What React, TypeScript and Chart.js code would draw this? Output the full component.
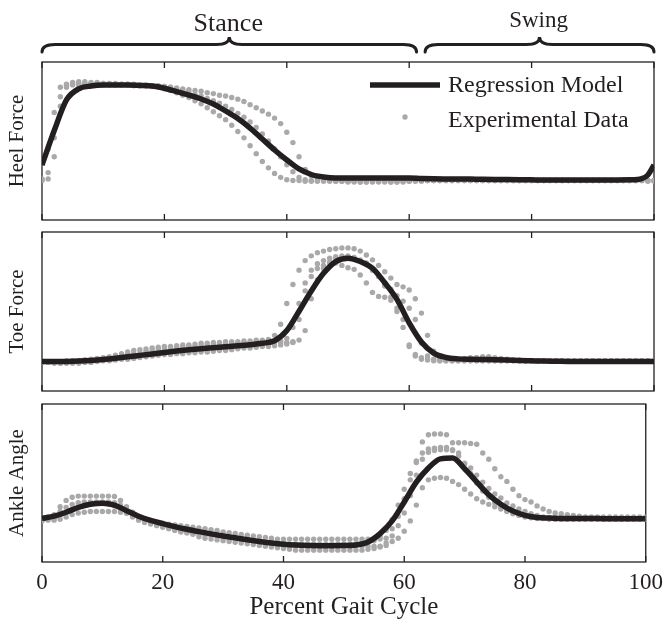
import React, { useEffect, useRef } from 'react';
import { Chart, registerables } from 'chart.js';

Chart.register(...registerables);

// ---------- data ----------
const PCT = [
  0, 1, 2, 3, 4, 5, 6, 7, 8, 9, 10, 11, 12, 13, 14, 15, 16, 17, 18, 19,
  20, 21, 22, 23, 24, 25, 26, 27, 28, 29, 30, 31, 32, 33, 34, 35, 36, 37, 38, 39,
  40, 41, 42, 43, 44, 45, 46, 47, 48, 49, 50, 51, 52, 53, 54, 55, 56, 57, 58, 59,
  60, 61, 62, 63, 64, 65, 66, 67, 68, 69, 70, 71, 72, 73, 74, 75, 76, 77, 78, 79,
  80, 81, 82, 83, 84, 85, 86, 87, 88, 89, 90, 91, 92, 93, 94, 95, 96, 97, 98, 99, 100,
];
const REG_X = [
  0, 2, 4, 6, 8, 10, 12, 14, 16, 18, 20, 22, 24, 26, 28, 30, 32, 34, 36, 38,
  40, 42, 44, 46, 48, 50, 52, 54, 56, 58, 60, 62, 64, 66, 68, 70, 72, 74, 76, 78,
  80, 82, 84, 86, 88, 90, 92, 94, 96, 98, 99, 100,
];
const X_TICKS = [0, 20, 40, 60, 80, 100];

const HEEL_REG = [
  34.8, 56.6, 76, 83, 84.8, 85.4, 85.4, 85.4, 85.2, 84.8,
  83.4, 81.3, 79.1, 76.6, 73.4, 69, 64.2, 58.2, 51.3, 44.3,
  38, 32.3, 28.8, 27.2, 26.6, 26.6, 26.6, 26.6, 26.6, 26.6,
  26.6, 26.3, 26.1, 26, 26, 25.9, 25.8, 25.7, 25.6, 25.5,
  25.4, 25.3, 25.3, 25.3, 25.3, 25.3, 25.3, 25.3, 25.4, 26.2,
  28.5, 34.8,
];
const HEEL_T1 = [
  25.5, 26, 40, 72, 84, 86, 86.5, 86.5, 86.5, 86.5,
  86.5, 86.5, 86, 86, 86, 85.5, 85.5, 85, 84.5, 84,
  83, 82, 80.5, 79, 77.5, 75.5, 73.5, 71, 68.5, 66,
  63.5, 60, 56, 52, 47, 42, 37, 33, 29.5, 27,
  25.5, 25, 25, 24.5, 24.5, 24.5, 24.5, 24.5, 24.5, 24.5,
  24.5, 24.5, 24, 24, 24.5, 24.5, 24.5, 24, 24, 24.5,
  24.5, 25, 25, 25, 25, 25, 25, 25, 25, 25,
  25, 25, 25, 25, 25, 25, 25, 25, 25, 25,
  25, 25, 25, 25, 25, 25, 25, 25, 25, 25,
  25, 25, 25, 25, 25, 25, 25, 25, 25, 25,
  25,
];
const HEEL_T2 = [
  25, 30, 52, 78, 86, 87, 87.5, 87.5, 87, 87,
  86.5, 86.5, 86.5, 86, 86, 86, 85.5, 85.5, 85, 85,
  84.5, 84, 83, 82, 81, 79.5, 78.5, 77, 75.5, 74,
  72, 70, 67.5, 65, 62, 58.5, 54.5, 50, 45, 40,
  35, 30.5, 27, 25.5, 25, 25, 25, 25, 24.5, 24.5,
  24.5, 24.5, 24.5, 24.5, 24.5, 24.5, 24.5, 24.5, 24.5, 24.5,
  25, 25, 25, 25, 25, 25, 25, 25, 25, 25,
  25, 25, 25, 25, 25, 25, 25, 25, 25, 25,
  25, 25, 25, 25, 25, 25, 25, 25, 25, 25,
  25, 25, 25, 25, 25, 25, 25, 25, 25, 24.5,
  24.5,
];
const HEEL_T3 = [
  26, 45, 68, 84, 85.5, 85.5, 85.5, 85.5, 85.5, 85.5,
  85.5, 85.5, 85.5, 85.5, 85.5, 85, 85, 85, 85, 84.5,
  84.5, 84, 83.5, 83, 82.5, 82, 81.5, 80.5, 80, 79,
  78.5, 77.5, 76.5, 75, 73, 71, 69, 67, 64.5, 61,
  55.5, 49, 40, 32, 28, 26.5, 25.5, 25, 25, 25,
  24, 24, 24, 24, 24, 24, 24, 24, 24, 24,
  24.5, 24.5, 24.5, 25, 25, 25, 25, 25, 25, 25,
  25, 25, 25, 25, 25, 25, 25, 25, 25, 25,
  25, 25, 25, 25, 25, 25, 25, 25, 25, 25,
  25, 25, 25, 25, 25, 25, 25, 25, 25, 25,
  25,
];

const TOE_REG = [
  18.5, 18.5, 18.6, 18.8, 19.2, 19.8, 20.6, 21.5, 22.4, 23.3,
  24.2, 25.1, 25.9, 26.6, 27.2, 27.8, 28.4, 29.1, 30, 31.6,
  38, 50.2, 62.9, 74, 81.4, 83.5, 81.4, 77.2, 68.1, 57.6,
  42.8, 30.8, 23.8, 21.1, 20.2, 19.9, 19.8, 19.7, 19.5, 19.2,
  19, 18.8, 18.7, 18.6, 18.6, 18.6, 18.6, 18.6, 18.6, 18.6,
  18.6, 18.6,
];
const TOE_T1 = [
  18, 18, 18.5, 18.5, 18.5, 19, 19, 19.5, 20, 20.5,
  21, 21.5, 22.5, 23.5, 24.5, 25.5, 26, 26.5, 27, 27.5,
  28, 28, 28.5, 29, 29, 29.5, 30, 30, 30.5, 30.5,
  31, 31, 31, 31.5, 31.5, 32, 32, 32.5, 35, 42,
  55, 67, 76, 82, 85, 87, 88, 89, 89.5, 90,
  90, 89.5, 88, 85.5, 82.5, 79, 75, 71, 67, 65.5,
  63.5, 58, 49, 35, 25, 21, 20, 20, 20, 20.5,
  21, 21, 21.5, 21.5, 21, 20.5, 20, 19.5, 19.5, 19,
  19, 19, 19, 19, 19, 19, 19, 19, 19, 19,
  19, 19, 19, 19, 19, 19, 19, 19, 19, 19,
  19,
];
const TOE_T2 = [
  18.5, 18.5, 18.5, 18.5, 19, 19, 19, 19.5, 19.5, 20,
  20.5, 21, 21.5, 22, 23, 23.5, 24, 25, 25.5, 26,
  26.5, 27, 27.5, 27.5, 28, 28, 28.5, 29, 29, 29.5,
  29.5, 30, 30, 30.5, 30.5, 31, 31, 31, 31, 31.5,
  33, 40, 55, 68, 76, 80, 82, 83.5, 84.5, 85,
  85, 84, 82, 79.5, 76, 72, 68, 64, 60, 56.5,
  52, 45, 30, 22, 20, 19.5, 19.5, 19.5, 19.5, 20,
  20.5, 21, 21, 21, 20.5, 20, 19.5, 19.5, 19, 19,
  19, 19, 19, 19, 19, 19, 19, 19, 19, 19,
  19, 19, 19, 19, 19, 19, 19, 19, 19, 19,
  19,
];
const TOE_T3 = [
  18.5, 18, 18, 17.5, 17.5, 17.5, 17.5, 18, 18, 18.5,
  19, 19, 19.5, 20, 20, 20.5, 21, 21.5, 22, 22.5,
  23, 23, 23.5, 23.5, 24, 24, 24.5, 24.5, 25, 25.5,
  25.5, 26, 26.5, 27, 27, 27.5, 28, 28, 28.5, 29,
  29.5, 30.5, 45, 63, 72, 77, 79, 80.5, 80.5, 79,
  77.5, 76.5, 73, 68, 62, 59.5, 59, 57, 52, 45,
  28, 22, 20, 19.5, 19, 19, 19, 19, 19, 19,
  19, 19, 19, 19, 19, 19, 19, 19, 19, 19,
  19, 19, 19, 19, 19, 19, 19, 19, 19, 19,
  19, 19, 19, 19, 19, 19, 19, 19, 19, 19,
  19,
];
const TOE_T4 = [
  18, 18, 17.5, 17.5, 18, 18, 18.5, 18.5, 19, 19,
  19.5, 20, 20.5, 21, 21.5, 22, 22.5, 23, 23.5, 24,
  24.5, 25, 25.5, 26, 26.5, 27, 27, 27.5, 28, 28,
  28.5, 29, 29, 29.5, 29.5, 30, 30, 30, 30.5, 30.5,
  30.5, 31, 32, 38, 58, 70, 77, 81, 83, 84,
  84, 83.5, 82.5, 80.5, 77, 72, 66, 59, 50, 40,
  29, 23, 21, 20, 19.5, 19, 19, 19, 19, 19,
  19, 19, 19, 19, 19, 19, 19, 19, 19, 19,
  19, 19, 19, 19, 19, 19, 19, 19, 19, 19,
  19, 19, 19, 19, 19, 19, 19, 19, 19, 19,
  19,
];

const ANKLE_REG = [
  27.6, 29, 31.5, 34.5, 36.5, 37.2, 36, 32.5, 29, 26.3,
  24.3, 22.4, 20.7, 19.2, 17.8, 16.5, 15.3, 14.1, 13, 12,
  11.2, 10.7, 10.4, 10.3, 10.3, 10.4, 10.8, 12.7, 18, 26,
  38, 50.5, 59.5, 65.3, 65.8, 59, 50.7, 42.5, 36.5, 32.2,
  29.5, 28.2, 27.8, 27.6, 27.5, 27.5, 27.5, 27.4, 27.4, 27.4,
  27.4, 27.4,
];
const ANKLE_T1 = [
  27, 27.5, 30, 35, 39, 41, 41.7, 41.7, 41.7, 41.7,
  41.7, 41.7, 41.5, 39, 35, 31.5, 28.5, 26.5, 25.5, 25,
  24.5, 24, 23.5, 23, 22.5, 22, 21.5, 21, 20.5, 20,
  19, 18.5, 18, 17.5, 17, 16.5, 16, 15.5, 15, 14.5,
  14.5, 14.5, 14.5, 14.5, 14.5, 14.5, 14.5, 14.5, 14.5, 14.5,
  14.5, 14.5, 14.5, 14.5, 14.5, 14.5, 14.5, 15, 21, 29,
  40, 52, 63, 76, 80.5, 81, 81, 80.5, 75.5, 75.5,
  75.5, 75, 74.5, 69, 65, 59, 54, 51, 46, 42,
  39.5, 38, 35.5, 33.5, 32, 31, 30.5, 30, 29.5, 29,
  28.5, 28.5, 28.5, 28.5, 28.5, 28.5, 28.5, 28.5, 28.5, 28.5,
  28.5,
];
const ANKLE_T2 = [
  26, 26.5, 26.5, 27, 28.5, 30, 31, 31.5, 32, 32,
  32, 32, 32, 31.5, 30.8, 29, 27.5, 26, 24.5, 23.5,
  22.5, 21.5, 20.5, 19.5, 18.5, 17.5, 16, 15, 14.5, 14,
  13.5, 13, 12.5, 12, 11.5, 11, 10.5, 10, 9.5, 9,
  8.5, 8, 7.5, 7.5, 7.5, 7.5, 7.5, 7.5, 7.5, 7.5,
  7.5, 7.5, 7.5, 7.5, 8, 8.5, 9.5, 12, 16.5, 23,
  31, 42, 55, 65, 69.5, 70.5, 71, 71, 70.5, 69,
  62.5, 59.5, 55, 50.5, 46.5, 43, 40.5, 37.3, 35.5, 33.5,
  32, 30.5, 29.5, 28.5, 27.5, 27, 27, 27, 27, 27,
  27, 27, 27, 27, 27, 27, 27, 27, 27, 27,
  27,
];
const ANKLE_T3 = [
  27, 27.5, 28, 29.5, 31.5, 33.5, 35, 36, 36.5, 37,
  37, 36.5, 35.5, 33.5, 31, 28.5, 26.5, 25, 24, 23,
  22, 21, 20, 19, 18.5, 18, 17.5, 17, 16.5, 16,
  15.5, 15, 14.5, 14, 13.5, 13, 12.5, 12, 11.5, 11,
  10.5, 10, 10, 10, 10, 10, 10, 10, 10, 10,
  10, 10, 10, 10, 10, 10, 10, 10.5, 13, 15,
  19.5, 26, 36, 47, 52, 53, 53.5, 53, 51, 49,
  46, 43, 40, 38, 36.5, 35, 33.5, 32, 30.5, 29.5,
  28.5, 28, 27.5, 27.5, 27, 27, 27, 27, 27, 27,
  27, 27, 27, 27, 27, 27, 27, 27, 27, 27,
  27,
];
const ANKLE_T4 = [
  28, 28.5, 29.5, 32, 34.5, 36.5, 37.5, 38, 38, 38,
  38, 38, 37.5, 36, 33.5, 30.5, 28, 26.5, 25.5, 24.5,
  23.5, 22.5, 21.5, 20.5, 19.5, 19, 18.5, 18, 17.5, 17,
  16.5, 16, 15.5, 15, 14.5, 14, 13.5, 13, 12.5, 12,
  12, 11.5, 11.5, 11.5, 11.5, 11.5, 11.5, 11.5, 11.5, 11.5,
  11.5, 11.5, 11.5, 12, 12.5, 13.5, 16, 20, 27, 36,
  46, 56, 64, 69, 71.5, 72, 72.5, 72.5, 71, 67,
  62, 56, 50, 45, 41, 37.5, 34.5, 32.5, 31, 30,
  29.5, 29, 28.5, 28, 28, 28, 28, 27.5, 27.5, 27.5,
  27.5, 27.5, 27.5, 27.5, 27.5, 27.5, 27.5, 27.5, 27.5, 27.5,
  27.5,
];

const PANEL_TITLES = ['Heel Force', 'Toe Force', 'Ankle Angle'];
const LEGEND_LABELS = ['Regression Model', 'Experimental Data'];
const X_TITLE = 'Percent Gait Cycle';
const PHASE_LABELS = ['Stance', 'Swing'];
const PHASE_FROM = [0, 62.6];
const PHASE_TO = [61.2, 100];

// ---------- style ----------
const INK = '#231f20';
const DOT = '#a9a9a9';
const SERIF = "'Liberation Serif', 'Times New Roman', serif";

function drawBrace(ctx: CanvasRenderingContext2D, x1: number, x2: number, y: number) {
  const d = 7.5;
  const r = 13;
  const xm = (x1 + x2) / 2;
  ctx.beginPath();
  ctx.moveTo(x1, y + d);
  ctx.quadraticCurveTo(x1, y, x1 + r, y);
  ctx.lineTo(xm - r, y);
  ctx.quadraticCurveTo(xm, y, xm, y - d);
  ctx.quadraticCurveTo(xm, y, xm + r, y);
  ctx.lineTo(x2 - r, y);
  ctx.quadraticCurveTo(x2, y, x2, y + d);
  ctx.stroke();
}

const framePlugin = {
  id: 'frame',
  beforeDatasetsDraw(chart: any) {
    const { ctx, chartArea: a, scales } = chart;
    const x = scales.x;
    ctx.save();
    ctx.strokeStyle = INK;
    ctx.lineWidth = 1.3;
    ctx.strokeRect(a.left, a.top, a.right - a.left, a.bottom - a.top);
    ctx.beginPath();
    for (const t of X_TICKS) {
      const px = x.getPixelForValue(t);
      ctx.moveTo(px, a.top);
      ctx.lineTo(px, a.top + 6);
      ctx.moveTo(px, a.bottom);
      ctx.lineTo(px, a.bottom - 6);
    }
    ctx.stroke();
    ctx.restore();
  },
};

const headerPlugin = {
  id: 'header',
  afterDraw(chart: any) {
    const { ctx, chartArea: a, scales } = chart;
    const x = scales.x;
    ctx.save();
    // phase braces
    ctx.strokeStyle = INK;
    ctx.lineWidth = 3;
    ctx.lineCap = 'round';
    ctx.fillStyle = INK;
    ctx.textAlign = 'center';
    ctx.textBaseline = 'alphabetic';
    PHASE_LABELS.forEach((lab, i) => {
      const x1 = x.getPixelForValue(PHASE_FROM[i]);
      const x2 = x.getPixelForValue(PHASE_TO[i]);
      drawBrace(ctx, x1, x2, a.top - 17.5);
      ctx.font = i === 0 ? `26px ${SERIF}` : `23px ${SERIF}`;
      ctx.fillText(lab, (x1 + x2) / 2 - 1, i === 0 ? a.top - 31 : a.top - 35);
    });
    // legend
    ctx.lineCap = 'butt';
    ctx.lineWidth = 5.5;
    ctx.beginPath();
    ctx.moveTo(a.right - 284, a.top + 23);
    ctx.lineTo(a.right - 214, a.top + 23);
    ctx.stroke();
    ctx.fillStyle = DOT;
    ctx.beginPath();
    ctx.arc(a.right - 249, a.top + 55, 2.7, 0, Math.PI * 2);
    ctx.fill();
    ctx.fillStyle = INK;
    ctx.textAlign = 'left';
    ctx.font = `24px ${SERIF}`;
    ctx.fillText(LEGEND_LABELS[0], a.right - 206, a.top + 30);
    ctx.fillText(LEGEND_LABELS[1], a.right - 206, a.top + 65);
    ctx.restore();
  },
};

type Panel = {
  title: string;
  reg: number[];
  trials: number[][];
  top: number;
  height: number;
  padTop: number;
  padBottom: number;
  showX: boolean;
  header: boolean;
};

const PANELS: Panel[] = [
  { title: PANEL_TITLES[0], reg: HEEL_REG, trials: [HEEL_T1, HEEL_T2, HEEL_T3], top: 0, height: 226, padTop: 62, padBottom: 6, showX: false, header: true },
  { title: PANEL_TITLES[1], reg: TOE_REG, trials: [TOE_T1, TOE_T2, TOE_T3, TOE_T4], top: 226, height: 170, padTop: 6, padBottom: 5, showX: false, header: false },
  { title: PANEL_TITLES[2], reg: ANKLE_REG, trials: [ANKLE_T1, ANKLE_T2, ANKLE_T3, ANKLE_T4], top: 396, height: 231, padTop: 8, padBottom: 0, showX: true, header: false },
];

function buildConfig(p: Panel): any {
  const datasets: any[] = [
    {
      label: LEGEND_LABELS[0],
      data: REG_X.map((xv, i) => ({ x: xv, y: p.reg[i] })),
      borderColor: INK,
      borderWidth: 5.5,
      pointRadius: 0,
      cubicInterpolationMode: 'monotone',
      fill: false,
      order: 0,
    },
    ...p.trials.map((t) => ({
      label: LEGEND_LABELS[1],
      data: PCT.map((xv, i) => ({ x: xv, y: t[i] })),
      showLine: false,
      pointRadius: 2.7,
      pointBorderWidth: 0,
      pointBackgroundColor: DOT,
      borderColor: DOT,
      order: 1,
    })),
  ];
  return {
    type: 'line',
    data: { datasets },
    options: {
      animation: false,
      responsive: false,
      devicePixelRatio: 1,
      layout: { autoPadding: false, padding: { left: 0, right: 16, top: p.padTop, bottom: p.padBottom } },
      plugins: { legend: { display: false }, tooltip: { enabled: false } },
      scales: {
        x: {
          type: 'linear',
          min: 0,
          max: 100,
          display: p.showX,
          grid: { display: false, drawTicks: false },
          border: { display: false },
          ticks: { stepSize: 20, font: { family: SERIF, size: 23 }, color: INK, padding: 7 },
          title: {
            display: true,
            text: X_TITLE,
            font: { family: SERIF, size: 25 },
            color: INK,
            padding: { top: 0, bottom: 5 },
          },
          afterFit: (s: any) => {
            s.height = p.showX ? 65 : 0;
          },
        },
        y: {
          type: 'linear',
          min: 0,
          max: 100,
          grid: { display: false, drawTicks: false },
          border: { display: false },
          ticks: { display: false },
          title: {
            display: true,
            text: p.title,
            font: { family: SERIF, size: 21 },
            color: INK,
            padding: { top: 5, bottom: 0 },
          },
          afterFit: (s: any) => {
            s.width = 42;
          },
        },
      },
    },
    plugins: p.header ? [framePlugin, headerPlugin] : [framePlugin],
  };
}

export default function App() {
  const r0 = useRef<HTMLCanvasElement>(null);
  const r1 = useRef<HTMLCanvasElement>(null);
  const r2 = useRef<HTMLCanvasElement>(null);
  const refs = [r0, r1, r2];

  useEffect(() => {
    const charts = PANELS.map((p, i) => new Chart(refs[i].current as HTMLCanvasElement, buildConfig(p)));
    return () => charts.forEach((c) => c.destroy());
  }, []);

  return (
    <div style={{ position: 'absolute', left: 0, top: 0, width: 670, height: 627, background: '#fff' }}>
      {PANELS.map((p, i) => (
        <canvas
          key={i}
          ref={refs[i]}
          width={670}
          height={p.height}
          style={{ position: 'absolute', left: 0, top: p.top, width: 670, height: p.height }}
        />
      ))}
    </div>
  );
}
